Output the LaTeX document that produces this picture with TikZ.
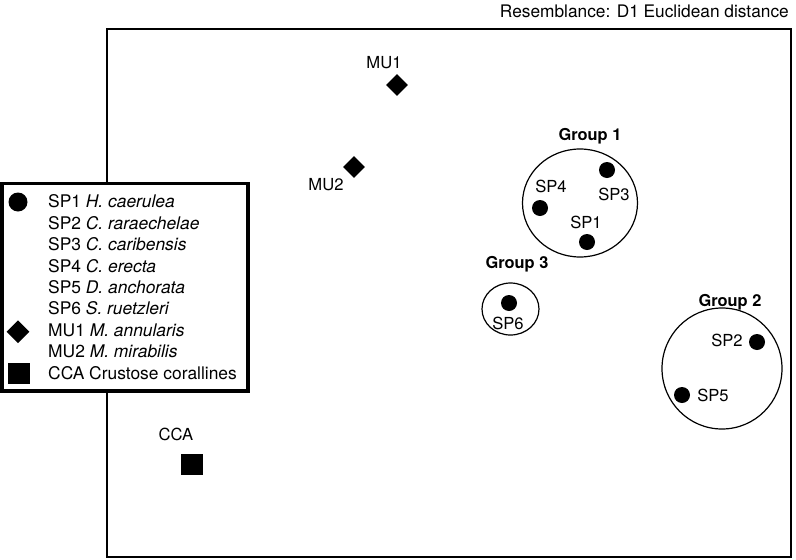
\documentclass[tikz,border=0pt]{standalone}
\usepackage{fontspec}
\setmainfont{TeX Gyre Heros}
\usetikzlibrary{shapes.geometric}
\begin{document}
\begin{tikzpicture}[x=1pt,y=-1pt,
  lab/.style={inner sep=0pt,text height=11.8pt,text depth=0pt,font=\fontsize{16.6}{19}\selectfont},
  glab/.style={lab,font=\fontsize{16.4}{19}\selectfont\bfseries},
  leg/.style={lab,anchor=west,text height=12.3pt,font=\fontsize{17.4}{20}\selectfont},
  dot/.style={circle,fill=black,minimum size=16pt,inner sep=0pt},
  dia/.style={diamond,fill=black,minimum size=22pt,inner sep=0pt},
  sq/.style={rectangle,fill=black,minimum width=22pt,minimum height=21pt,inner sep=0pt},
  grp/.style={draw=black,line width=1.2pt}]
\useasboundingbox (0,0) rectangle (796,560);
% frame
\draw[line width=1.1pt] (107,29) rectangle (791,557);
\node[lab,anchor=east,text height=12.3pt,font=\fontsize{17.3}{20}\selectfont] (title) at (789,11.5) {Resemblance: D1 Euclidean distance};
% MU points
\node[dia] (mu1) at (397,85) {};
\node[lab] (mu1l) at (384,63) {MU1};
\node[dia] (mu2) at (354,167) {};
\node[lab] (mu2l) at (326,185) {MU2};
% Group 1
\draw[grp] (580,203) ellipse [x radius=57.5,y radius=54];
\node[glab] (g1) at (590,135) {Group 1};
\node[dot] (sp3) at (607,170) {};
\node[lab] (sp3l) at (614,195) {SP3};
\node[dot] (sp4) at (540,208) {};
\node[lab] (sp4l) at (551,187) {SP4};
\node[dot] (sp1) at (587,242) {};
\node[lab] (sp1l) at (586,223) {SP1};
% Group 3
\draw[grp] (510.5,309) ellipse [x radius=28.5,y radius=26];
\node[glab] (g3) at (517,263) {Group 3};
\node[dot] (sp6) at (509,303) {};
\node[lab] (sp6l) at (508,324) {SP6};
% Group 2
\draw[grp] (722,368.5) ellipse [x radius=60,y radius=60.5];
\node[glab] (g2) at (730,301) {Group 2};
\node[dot] (sp2) at (757,342) {};
\node[lab] (sp2l) at (727,341) {SP2};
\node[dot] (sp5) at (682,395) {};
\node[lab] (sp5l) at (713,396) {SP5};
% CCA
\node[sq] (cca) at (191.5,464) {};
\node[lab] (ccal) at (176,435) {CCA};
% legend
\draw[line width=3.8pt,fill=white] (1.9,183.5) rectangle (248,391);
\node[dot,minimum size=19pt] (ls1) at (18,202) {};
\node[dia,minimum size=23pt] (lmu) at (18,331.7) {};
\node[sq] (lcca) at (19,373) {};
\node[leg] (l1) at (48,201.7) {SP1 \textit{H. caerulea}};
\node[leg] (l2) at (48,223.1) {SP2 \textit{C. raraechelae}};
\node[leg] (l3) at (48,244.5) {SP3 \textit{C. caribensis}};
\node[leg] (l4) at (48,265.9) {SP4 \textit{C. erecta}};
\node[leg] (l5) at (48,287.3) {SP5 \textit{D. anchorata}};
\node[leg] (l6) at (48,308.7) {SP6 \textit{S. ruetzleri}};
\node[leg] (l7) at (48,330.1) {MU1 \textit{M. annularis}};
\node[leg] (l8) at (48,351.5) {MU2 \textit{M. mirabilis}};
\node[leg] (l9) at (48,372.9) {CCA Crustose corallines};
\end{tikzpicture}
\end{document}
